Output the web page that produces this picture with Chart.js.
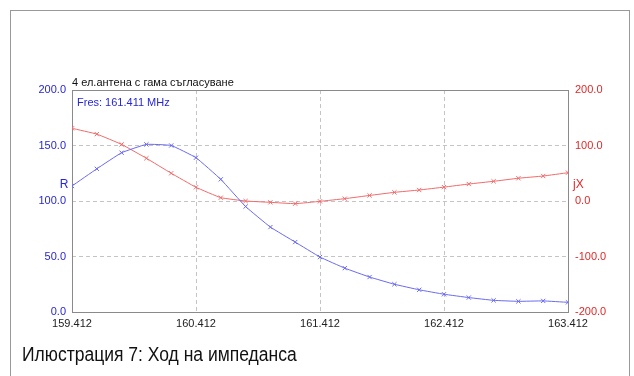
<!DOCTYPE html>
<html>
<head>
<meta charset="utf-8">
<script src="https://cdn.jsdelivr.net/npm/chart.js@4/dist/chart.umd.min.js"></script>
<style>
  html, body { margin: 0; padding: 0; background: #fff; }
  .frame { position: absolute; left: 10px; top: 10px; width: 618px; height: 400px; border: 1px solid #999; }
  .wrap { position: absolute; left: 0; top: 0; width: 634px; height: 376px; }
  .caption { position: absolute; left: 22px; top: 343px; font: 20px 'Liberation Sans', sans-serif; color: #111; white-space: nowrap; transform: scaleX(0.875); transform-origin: left top; }
</style>
</head>
<body>
<div class="frame"></div>
<div class="wrap"><canvas id="chart" width="634" height="376"></canvas></div>
<div class="caption">Илюстрация 7: Ход на импеданса</div>
<script>
// frequency points, MHz
var freqs = [159.412, 159.612, 159.812, 160.012, 160.212, 160.412, 160.612, 160.812, 161.012, 161.212,
  161.412, 161.612, 161.812, 162.012, 162.212, 162.412, 162.612, 162.812, 163.012, 163.212, 163.412]
// resistance R
var rValues = [113.5, 129, 143.5, 151, 150, 139, 119.5, 95, 76.5, 63,
  49.5, 39.5, 31.5, 25, 20, 16, 13, 10.5, 9.6, 10, 8.7]
// reactance jX
var xValues = [131, 120.5, 102, 77, 50, 24.7, 6, 0, -2.4, -4.8,
  -0.6, 4.2, 10, 15.6, 19.8, 25, 30.6, 35.5, 41, 45, 51]
var xTicks = [159.412, 160.412, 161.412, 162.412, 163.412]
var chartTitle = '4 ел.антена с гама съгласуване'
var fresText = 'Fres: 161.411 MHz'

var blueText = '#2626d9'
var redText = '#e02828'
var font11 = { family: "'Liberation Sans', Arial, sans-serif", size: 11 }

// frame round the plot plus the loose texts
var decor = {
  id: 'decor',
  beforeDatasetsDraw (chart) {
    var a = chart.chartArea
    var ctx = chart.ctx
    ctx.save()
    ctx.strokeStyle = '#8a8a8a'
    ctx.lineWidth = 1
    ctx.strokeRect(Math.round(a.left) + 0.5, Math.round(a.top) + 0.5, Math.round(a.right - a.left), Math.round(a.bottom - a.top))
    ctx.restore()
  },
  afterDraw (chart) {
    var a = chart.chartArea
    var ctx = chart.ctx
    ctx.save()
    ctx.font = "11px 'Liberation Sans', Arial, sans-serif"
    ctx.textBaseline = 'middle'
    ctx.fillStyle = '#111'
    ctx.textAlign = 'left'
    ctx.fillText(chartTitle, a.left, a.top - 7)
    ctx.fillStyle = blueText
    ctx.fillText(fresText, a.left + 5, a.top + 13)
    ctx.font = "12px 'Liberation Sans', Arial, sans-serif"
    ctx.textAlign = 'center'
    var yR = chart.scales.y.getPixelForValue(115)
    ctx.fillText('R', a.left - 8, yR)
    ctx.fillStyle = redText
    ctx.textAlign = 'left'
    ctx.fillText('jX', a.right + 5, yR)
    ctx.restore()
  }
}

new Chart(document.getElementById('chart'), {
  type: 'line',
  data: {
    datasets: [{
      label: 'R',
      data: freqs.map((f, i) => ({ x: f, y: rValues[i] })),
      yAxisID: 'y',
      borderColor: '#6a6af0',
      backgroundColor: '#6a6af0',
      borderWidth: 1,
      pointStyle: 'crossRot',
      pointRadius: 3,
      pointBorderWidth: 1,
      tension: 0.1
    }, {
      label: 'jX',
      data: freqs.map((f, i) => ({ x: f, y: xValues[i] })),
      yAxisID: 'y2',
      borderColor: '#f06a6a',
      backgroundColor: '#f06a6a',
      borderWidth: 1,
      pointStyle: 'crossRot',
      pointRadius: 3,
      pointBorderWidth: 1,
      tension: 0.1
    }]
  },
  plugins: [decor],
  options: {
    responsive: false,
    animation: false,
    events: [],
    layout: { padding: { top: 90, left: 0, right: 0, bottom: 0 } },
    plugins: { legend: { display: false }, tooltip: { enabled: false }, title: { display: false } },
    scales: {
      x: {
        type: 'linear',
        min: 159.412,
        max: 163.412,
        afterBuildTicks (scale) { scale.ticks = xTicks.map(v => ({ value: v })) },
        afterFit (scale) { scale.height = 64 },
        grid: { color: '#c4c4c4', drawTicks: false },
        border: { display: false, dash: [4, 3] },
        ticks: { color: '#222', font: font11, padding: 5, maxRotation: 0, autoSkip: false, callback: v => v.toFixed(3) }
      },
      y: {
        position: 'left',
        min: 0,
        max: 200,
        afterFit (scale) { scale.width = 72 },
        grid: { color: '#c4c4c4', drawTicks: false },
        border: { display: false, dash: [4, 3] },
        ticks: { stepSize: 50, color: blueText, font: font11, padding: 6, callback: v => v.toFixed(1) }
      },
      y2: {
        position: 'right',
        min: -200,
        max: 200,
        afterFit (scale) { scale.width = 66 },
        grid: { display: false, drawTicks: false },
        border: { display: false },
        ticks: { stepSize: 100, color: redText, font: font11, padding: 7, callback: v => v.toFixed(1) }
      }
    }
  }
})
</script>
</body>
</html>
